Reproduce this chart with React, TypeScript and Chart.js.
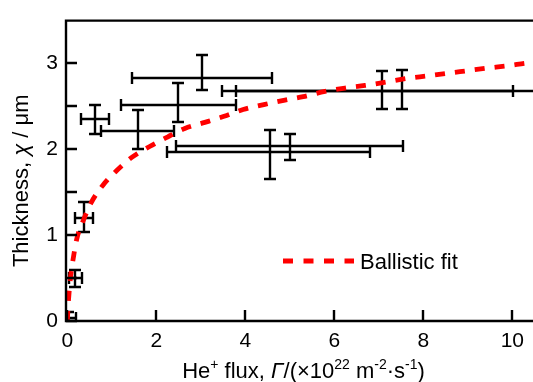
import React, { useEffect, useRef } from "react";
import { Chart, registerables } from "chart.js";

Chart.register(...registerables);

// Measured points (He+ flux in 1e22 m^-2 s^-1, thickness in µm) with error ranges
const fluxX = [0.02, 0.17, 0.37, 0.62, 1.58, 2.49, 3.02, 7.06, 7.53, 4.55, 5.0];
const fluxLow = [-0.1, 0.03, 0.17, 0.3, 0.75, 1.2, 1.46, 3.47, 3.79, 2.23, 2.45];
const fluxHigh = [0.2, 0.32, 0.58, 0.94, 2.4, 3.79, 4.6, 10.02, 11.3, 6.8, 7.55];
const thickY = [0.04, 0.5, 1.2, 2.35, 2.21, 2.51, 2.83, 2.68, 2.68, 1.96, 2.03];
const thickLow = [-0.05, 0.4, 1.03, 2.18, 2.0, 2.32, 2.69, 2.46, 2.46, 1.65, 1.87];
const thickHigh = [0.11, 0.59, 1.38, 2.51, 2.45, 2.77, 3.09, 2.91, 2.92, 2.22, 2.17];

// Ballistic fit curve
const fitX = [0, 0.01, 0.03, 0.07, 0.13, 0.21, 0.36, 0.54, 0.8, 1.11, 1.44, 1.85, 2.25, 2.64, 3.09, 3.58, 3.95, 4.44, 4.89, 5.3, 5.79, 6.24, 6.69, 7.17, 7.62, 8.07, 8.52, 8.97, 9.42, 9.91, 10.32, 10.5];
const fitY = [0, 0.1, 0.27, 0.5, 0.72, 0.95, 1.17, 1.38, 1.58, 1.75, 1.9, 2.03, 2.14, 2.24, 2.31, 2.39, 2.46, 2.52, 2.57, 2.61, 2.67, 2.71, 2.74, 2.78, 2.82, 2.85, 2.88, 2.91, 2.94, 2.97, 3.0, 3.01];

const legendLabel = "Ballistic fit";
const FONT = "'Liberation Sans', Arial, sans-serif";

type Run = { t: string; sup?: boolean; it?: boolean };
const xTitleRuns: Run[] = [
  { t: "He" }, { t: "+", sup: true }, { t: " flux, " }, { t: "Γ", it: true },
  { t: "/(×10" }, { t: "22", sup: true }, { t: " m" }, { t: "-2", sup: true },
  { t: "·s" }, { t: "-1", sup: true }, { t: ")" },
];
const yTitleRuns: Run[] = [{ t: "Thickness, " }, { t: "χ", it: true }, { t: " / μm" }];

function runFont(r: Run, size: number) {
  const s = r.sup ? Math.round(size * 0.62) : size;
  return `${r.it ? "italic " : ""}${s}px ${FONT}`;
}
function drawRuns(ctx: CanvasRenderingContext2D, runs: Run[], cx: number, baseY: number, size: number) {
  let total = 0;
  for (const r of runs) { ctx.font = runFont(r, size); total += ctx.measureText(r.t).width; }
  let xx = cx - total / 2;
  ctx.textAlign = "left";
  ctx.textBaseline = "alphabetic";
  for (const r of runs) {
    ctx.font = runFont(r, size);
    ctx.fillText(r.t, xx, r.sup ? baseY - size * 0.4 : baseY);
    xx += ctx.measureText(r.t).width;
  }
}

const R = (v: number) => Math.round(v);

const decorPlugin = {
  id: "decor",
  beforeDatasetsDraw(chart: any) {
    const { ctx, chartArea: a, scales } = chart;
    const sx = scales.x, sy = scales.y;
    ctx.save();
    ctx.beginPath();
    ctx.rect(a.left, a.top, a.right - a.left, a.bottom - a.top);
    ctx.clip();
    ctx.strokeStyle = "#000";
    ctx.lineWidth = 2.4;
    ctx.lineCap = "butt";
    const cap = 6;
    for (let i = 0; i < fluxX.length; i++) {
      const px = R(sx.getPixelForValue(fluxX[i]));
      const py = R(sy.getPixelForValue(thickY[i]));
      const xl = R(sx.getPixelForValue(fluxLow[i]));
      const xh = R(sx.getPixelForValue(fluxHigh[i]));
      const yl = R(sy.getPixelForValue(thickLow[i]));
      const yh = R(sy.getPixelForValue(thickHigh[i]));
      ctx.beginPath();
      ctx.moveTo(xl, py); ctx.lineTo(xh, py);
      ctx.moveTo(xl, py - cap); ctx.lineTo(xl, py + cap);
      ctx.moveTo(xh, py - cap); ctx.lineTo(xh, py + cap);
      ctx.moveTo(px, yl); ctx.lineTo(px, yh);
      ctx.moveTo(px - cap, yl); ctx.lineTo(px + cap, yl);
      ctx.moveTo(px - cap, yh); ctx.lineTo(px + cap, yh);
      ctx.stroke();
    }
    ctx.restore();
  },
  afterDraw(chart: any) {
    const { ctx, chartArea: a, scales } = chart;
    const sx = scales.x, sy = scales.y;
    ctx.save();
    ctx.strokeStyle = "#000";
    ctx.lineWidth = 2.4;
    // frame: left, bottom, top
    ctx.beginPath();
    ctx.moveTo(a.right, a.top); ctx.lineTo(a.left, a.top);
    ctx.lineTo(a.left, a.bottom); ctx.lineTo(a.right, a.bottom);
    ctx.stroke();
    // inward ticks
    const tl = 11;
    ctx.beginPath();
    for (const t of sy.ticks) {
      const p = R(sy.getPixelForValue(t.value));
      ctx.moveTo(a.left, p); ctx.lineTo(a.left + tl, p);
    }
    for (const t of sx.ticks) {
      const p = R(sx.getPixelForValue(t.value));
      ctx.moveTo(p, a.bottom); ctx.lineTo(p, a.bottom - tl);
    }
    ctx.stroke();

    // axis titles
    ctx.fillStyle = "#000";
    drawRuns(ctx, xTitleRuns, (a.left + a.right) / 2 + 4, 378, 22);
    ctx.save();
    ctx.translate(28, (a.top + a.bottom) / 2 + 10);
    ctx.rotate(-Math.PI / 2);
    drawRuns(ctx, yTitleRuns, 0, 0, 22);
    ctx.restore();

    // legend
    ctx.strokeStyle = "#ff0000";
    ctx.lineWidth = 5;
    ctx.setLineDash([10, 10.5]);
    ctx.beginPath();
    ctx.moveTo(283, 261); ctx.lineTo(354, 261);
    ctx.stroke();
    ctx.setLineDash([]);
    ctx.fillStyle = "#000";
    ctx.font = `22px ${FONT}`;
    ctx.textAlign = "left";
    ctx.textBaseline = "alphabetic";
    ctx.fillText(legendLabel, 360, 269);
    ctx.restore();
  },
};

export default function App() {
  const ref = useRef<HTMLCanvasElement | null>(null);
  useEffect(() => {
    if (!ref.current) return;
    const chart = new Chart(ref.current, {
      type: "scatter",
      data: {
        datasets: [
          {
            label: "data",
            data: fluxX.map((v, i) => ({ x: v, y: thickY[i] })),
            pointRadius: 0,
            showLine: false,
          },
          {
            label: legendLabel,
            data: fitX.map((v, i) => ({ x: v, y: fitY[i] })),
            showLine: true,
            pointRadius: 0,
            borderColor: "#ff0000",
            borderWidth: 4.8,
            borderDash: [10, 10],
            cubicInterpolationMode: "monotone",
            fill: false,
          },
        ],
      },
      options: {
        responsive: false,
        animation: false,
        layout: { padding: { top: 10, left: 0, right: 0, bottom: 0 } },
        plugins: { legend: { display: false }, tooltip: { enabled: false } },
        scales: {
          x: {
            type: "linear",
            min: -0.03,
            max: 10.464,
            grid: { display: false, drawTicks: false },
            border: { display: false },
            ticks: {
              stepSize: 2,
              includeBounds: false,
              color: "#000",
              font: { family: FONT, size: 21 },
              padding: 8,
              maxRotation: 0,
            },
            afterFit: (s: any) => { s.height = 61; },
          },
          y: {
            type: "linear",
            min: 0,
            max: 3.494,
            grid: { display: false, drawTicks: false },
            border: { display: false },
            ticks: {
              stepSize: 0.5,
              includeBounds: false,
              color: "#000",
              font: { family: FONT, size: 21 },
              padding: 8,
              callback: (v: any) => (Number.isInteger(v) ? String(v) : ""),
            },
            afterFit: (s: any) => { s.width = 66; },
          },
        },
      },
      plugins: [decorPlugin],
    } as any);
    return () => chart.destroy();
  }, []);
  return (
    <div style={{ position: "absolute", left: 0, top: 0, width: 533, height: 382, background: "#fff" }}>
      <canvas ref={ref} width={533} height={382} style={{ display: "block" }} />
    </div>
  );
}
